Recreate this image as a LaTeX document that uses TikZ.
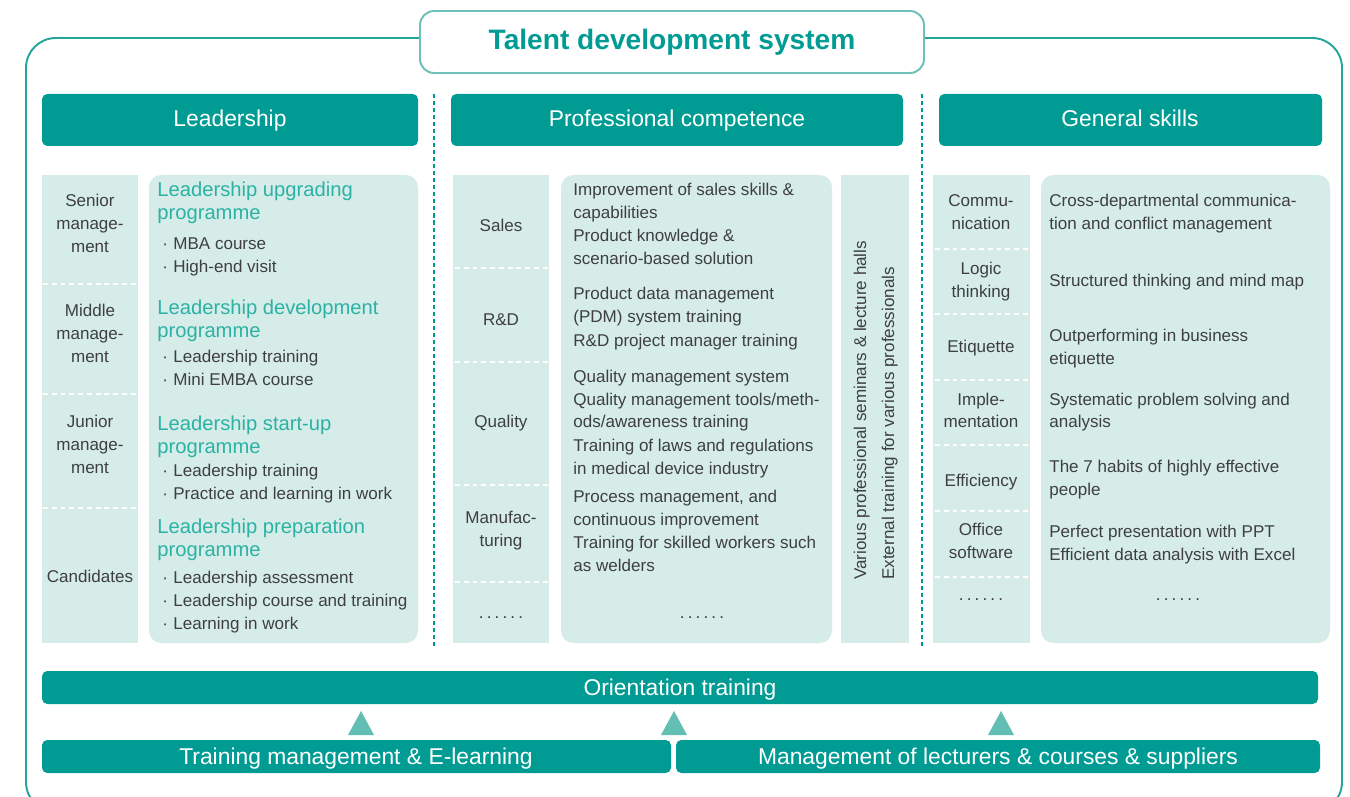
\documentclass[tikz,border=0pt]{standalone}
\usepackage{fontspec}
\setmainfont{Liberation Sans}
\definecolor{tdark}{HTML}{009C94}
\definecolor{tlight}{HTML}{D5ECE9}
\definecolor{tgreen}{HTML}{2CB2A4}
\definecolor{ttri}{HTML}{63BEB3}
\definecolor{tframe}{HTML}{23A59A}
\definecolor{ttitle}{HTML}{6CC0B8}
\definecolor{txt}{HTML}{3F3F3F}
\newcommand\sixdots{.\kern1.8pt.\kern1.8pt.\kern1.8pt.\kern1.8pt.\kern1.8pt.}
\begin{document}
\begin{tikzpicture}[x=0.02cm,y=-0.02cm,
  body/.style={font=\fontsize{9.7}{13}\selectfont, text=txt, inner sep=0pt, anchor=base west},
  bodyc/.style={body, anchor=base},
  headtxt/.style={font=\fontsize{11.5}{14}\selectfont, text=tgreen, inner sep=0pt, anchor=base west},
  barbox/.style={fill=tdark, rounded corners=3pt},
  bartext/.style={font=\fontsize{13}{15}\selectfont, text=white, inner sep=0pt, anchor=base},
  lbox/.style={fill=tlight},
  cbox/.style={fill=tlight, rounded corners=7pt},
  wdash/.style={draw=white, line width=1.2pt, dash pattern=on 2.8pt off 2.2pt},
  vsep/.style={draw=tdark, line width=1.2pt, dash pattern=on 2.3pt off 1.7pt},
  tri/.style={fill=ttri}
]
\useasboundingbox (0,0) rectangle (1350,797);
\clip (0,0) rectangle (1350,797);
\fill[white] (0,0) rectangle (1350,797);

% outer frame
\draw[tframe, line width=1.1pt, rounded corners=17pt] (26,38) rectangle (1342,812);
% title
\draw[ttitle, fill=white, line width=1.1pt, rounded corners=8pt] (420,11) rectangle (924,73);
\node[font=\bfseries\fontsize{16}{18}\selectfont, text=tdark, inner sep=0pt, anchor=base] (title) at (672,50) {Talent development system};

% header bars
\fill[barbox] (42,94) rectangle (418,146);
\fill[barbox] (451,94) rectangle (903,146);
\fill[barbox] (939,94) rectangle (1322,146);
\node[bartext] (hL) at (230,127) {Leadership};
\node[bartext] (hP) at (677,127) {Professional competence};
\node[bartext] (hG) at (1130,127) {General skills};

% separators
\draw[vsep] (434,94) -- (434,648);
\draw[vsep] (922,94) -- (922,648);

% boxes
\fill[lbox] (42,175) rectangle (138,643);
\fill[cbox] (149,175) rectangle (418,643);
\fill[lbox] (453,175) rectangle (549,643);
\fill[cbox] (561,175) rectangle (832,643);
\fill[lbox] (841,175) rectangle (909,643);
\fill[lbox] (933,175) rectangle (1030,643);
\fill[cbox] (1041,175) rectangle (1330,643);

% white dashed dividers
\foreach \y in {284,394,508} \draw[wdash] (43,\y) -- (137,\y);
\foreach \y in {268,362,485,582} \draw[wdash] (455,\y) -- (548,\y);
\foreach \y in {249,314,380,445,511,577} \draw[wdash] (935,\y) -- (1028,\y);

% left labels
\foreach \y/\t [count=\i] in {207/Senior, 230/manage-, 253/ment, 317/Middle, 340/manage-, 363/ment, 428/Junior, 451/manage-, 474/ment, 582/Candidates}
  \node[bodyc] (ll\i) at (90,\y) {\t};

% left content
\foreach \y/\t [count=\i] in {197/Leadership upgrading, 220/programme, 315/Leadership development, 338/programme, 431/Leadership start-up, 454/programme, 533/Leadership preparation, 556/programme}
  \node[headtxt] (lh\i) at (157,\y) {\t};
\foreach \y/\t [count=\i] in {250/MBA course, 273/High-end visit, 363/Leadership training, 386/Mini EMBA course, 477/Leadership training, 500/Practice and learning in work, 583/Leadership assessment, 606/Leadership course and training, 629/Learning in work}
  {\node[body] (lb\i) at (173,\y) {\t};
   \node[body] (ld\i) at (162,\y) {·};}

% middle labels
\foreach \y/\t [count=\i] in {232/Sales, 326/R\&D, 428/Quality, 523/Manufac-, 546/turing}
  \node[bodyc] (ml\i) at (501,\y) {\t};
\node[bodyc] (mldots) at (501,618) {\sixdots};

% middle content
\foreach \y/\t [count=\i] in {196/Improvement of sales skills \&, 219/capabilities, 242/Product knowledge \&, 265/scenario-based solution, 300/Product data management, 323/(PDM) system training, 347/R\&D project manager training, 382/Quality management system, 405/{Quality management tools/meth-}, 428/{ods/awareness training}, 452/Training of laws and regulations, 475/in medical device industry, {502/Process management, and}, 525/continuous improvement, 548/Training for skilled workers such, 571/as welders}
  \node[body] (mc\i) at (573,\y) {\t};
\node[bodyc] (mdots) at (702,618) {\sixdots};

% vertical texts
\node[body, rotate=90, anchor=base west] (v1) at (866,580) {Various professional seminars \& lecture halls};
\node[body, rotate=90, anchor=base west] (v2) at (894,580) {External training for various professionals};

% right labels
\foreach \y/\t [count=\i] in {207/Commu-, 230/nication, 275/Logic, 298/thinking, 353/Etiquette, 405/Imple-, 428/mentation, 486/Efficiency, 535/Office, 558/software}
  \node[bodyc] (rl\i) at (981,\y) {\t};
\node[bodyc] (rldots) at (981,600) {\sixdots};

% right content
\foreach \y/\t [count=\i] in {207/Cross-departmental communica-, 230/tion and conflict management, 287/Structured thinking and mind map, 342/Outperforming in business, 365/etiquette, 405/Systematic problem solving and, 428/analysis, 472/The 7 habits of highly effective, 495/people, 537/Perfect presentation with PPT, 560/Efficient data analysis with Excel}
  \node[body] (rc\i) at (1049,\y) {\t};
\node[bodyc] (rdots) at (1178,600) {\sixdots};

% bottom bars
\fill[barbox] (42,671) rectangle (1318,704);
\node[bartext] (orient) at (680,695) {Orientation training};
\fill[barbox] (42,740) rectangle (671,773);
\fill[barbox] (676,740) rectangle (1320,773);
\node[bartext] (tm) at (356,764) {Training management \& E-learning};
\node[bartext] (mgl) at (998,764) {Management of lecturers \& courses \& suppliers};

% triangles
\foreach \x in {361,674,1001}
  \fill[tri] (\x,711) -- (\x+13,735) -- (\x-13,735) -- cycle;
\end{tikzpicture}
\end{document}
